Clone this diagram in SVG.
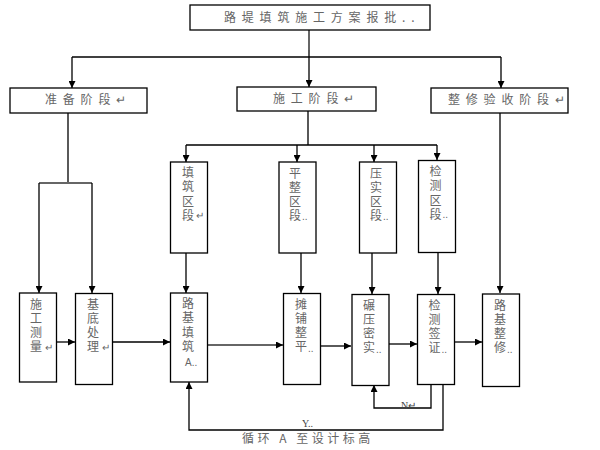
<svg xmlns="http://www.w3.org/2000/svg" width="600" height="450" viewBox="0 0 600 450">
<defs>
<marker id="ah" markerUnits="userSpaceOnUse" markerWidth="8" markerHeight="7" refX="7" refY="3.5" orient="auto">
<path d="M0,0 L7,3.5 L0,7 z" fill="#000"/>
</marker>
<style>
.box{fill:#fff;stroke:#000;stroke-width:1.3}
.t{font-family:"Noto Sans CJK SC","Noto Sans",sans-serif;font-size:12px;fill:#666}
.h{letter-spacing:5.8px}
.v{writing-mode:vertical-rl;text-orientation:upright;letter-spacing:2.3px}
.s{font-family:"Liberation Sans","Noto Sans CJK SC",sans-serif;font-size:10px;fill:#666}
.ln{fill:none;stroke:#000;stroke-width:1.3}
.g{fill:none;stroke:#666;stroke-width:2}
.a{marker-end:url(#ah)}
</style>
</defs>
<rect width="600" height="450" fill="#fff"/>
<g id="connectors">
<path class="g" d="M309,30 V50"/>
<path class="ln a" d="M309,50 V87"/>
<path class="ln" d="M72,57 H501"/>
<path class="ln a" d="M72,57 V88"/>
<path class="ln a" d="M501,57 V88"/>
<path class="ln" d="M68,113 V183"/>
<path class="g" d="M39,183 H92"/>
<path class="ln a" d="M39,183 V293"/>
<path class="ln a" d="M92,183 V293"/>
<path class="ln" d="M308,111 V145 M186,145 H437"/>
<path class="ln a" d="M186,145 V162"/>
<path class="ln a" d="M297,145 V162"/>
<path class="ln a" d="M374,145 V162"/>
<path class="ln a" d="M437,145 V160"/>
<path class="ln a" d="M500,113 V293"/>
<path class="ln a" d="M186,253 V293"/>
<path class="ln a" d="M301,253 V293"/>
<path class="ln a" d="M372,253 V294"/>
<path class="ln a" d="M438,252 V294"/>
<path class="ln a" d="M57,342 H75"/>
<path class="ln a" d="M113,342 H170"/>
<path class="g" d="M208,345 H275"/>
<path class="ln a" d="M275,345 H283"/>
<path class="ln a" d="M321,346 H351"/>
<path class="ln a" d="M389,344 H417"/>
<path class="ln a" d="M451,342 H482"/>
<path class="ln a" d="M431,384 V408 H374 V385"/>
<path class="ln a" d="M443,384 V430 H189 V382"/>
</g>
<g id="n_top"><rect class="box" x="190" y="5" width="240" height="25"/>
<text class="t h" x="224" y="22">路堤填筑施工方案报批..</text></g>
<g id="n_prep"><rect class="box" x="10" y="88" width="137" height="25"/>
<text class="t h" x="45" y="104">准备阶段↵</text></g>
<g id="n_cons"><rect class="box" x="237" y="87" width="139" height="24"/>
<text class="t h" x="273" y="103">施工阶段↵</text></g>
<g id="n_fin"><rect class="box" x="431" y="88" width="137" height="25"/>
<text class="t h" x="448" y="104">整修验收阶段↵</text></g>
<g id="n_tz"><rect class="box" x="170.5" y="162" width="37" height="91"/>
<text class="t v" x="188" y="166.5">填筑区段</text><text class="s" x="196" y="219">↵</text></g>
<g id="n_pz"><rect class="box" x="279" y="162" width="37" height="91"/>
<text class="t v" x="295" y="167">平整区段</text><text class="s" x="302" y="220">..</text></g>
<g id="n_yz"><rect class="box" x="359.5" y="162" width="37" height="91"/>
<text class="t v" x="376" y="167">压实区段</text><text class="s" x="383" y="220">..</text></g>
<g id="n_jz"><rect class="box" x="418.5" y="160.5" width="37" height="92"/>
<text class="t v" x="435.5" y="165.5">检测区段</text><text class="s" x="442.5" y="218">..</text></g>
<g id="n_sg"><rect class="box" x="19.5" y="293" width="37" height="89"/>
<text class="t v" x="36" y="298">施工测量</text><text class="s" x="45" y="351">↵</text></g>
<g id="n_jd"><rect class="box" x="75.5" y="293.5" width="37" height="91"/>
<text class="t v" x="93" y="298">基底处理</text><text class="s" x="102" y="351">↵</text></g>
<g id="n_lj"><rect class="box" x="170.5" y="293" width="37" height="89"/>
<text class="t v" x="188" y="297.5">路基填筑</text><text class="s" x="185" y="366">A..</text></g>
<g id="n_tp"><rect class="box" x="283.5" y="293.5" width="37" height="91"/>
<text class="t v" x="301" y="298">摊铺整平</text><text class="s" x="308" y="352">..</text></g>
<g id="n_ny"><rect class="box" x="352" y="294.5" width="37" height="91"/>
<text class="t v" x="369" y="299">碾压密实</text><text class="s" x="376" y="353">..</text></g>
<g id="n_jc"><rect class="box" x="417.5" y="294.5" width="37" height="90"/>
<text class="t v" x="434.5" y="299">检测签证</text><text class="s" x="441.5" y="353">..</text></g>
<g id="n_zx"><rect class="box" x="482.5" y="294" width="37" height="92.5"/>
<text class="t v" x="500" y="299">路基整修</text><text class="s" x="507" y="353">..</text></g>
<g id="labels">
<text x="401" y="409" style="font-family:'Liberation Serif',serif;font-size:10px;fill:#444">N↵</text>
<text x="302" y="427" style="font-family:'Liberation Serif',serif;font-size:10px;fill:#444">Y..</text>
<text class="t" x="242" y="443" style="letter-spacing:3.5px">循环 A 至设计标高</text>
</g>
</svg>
